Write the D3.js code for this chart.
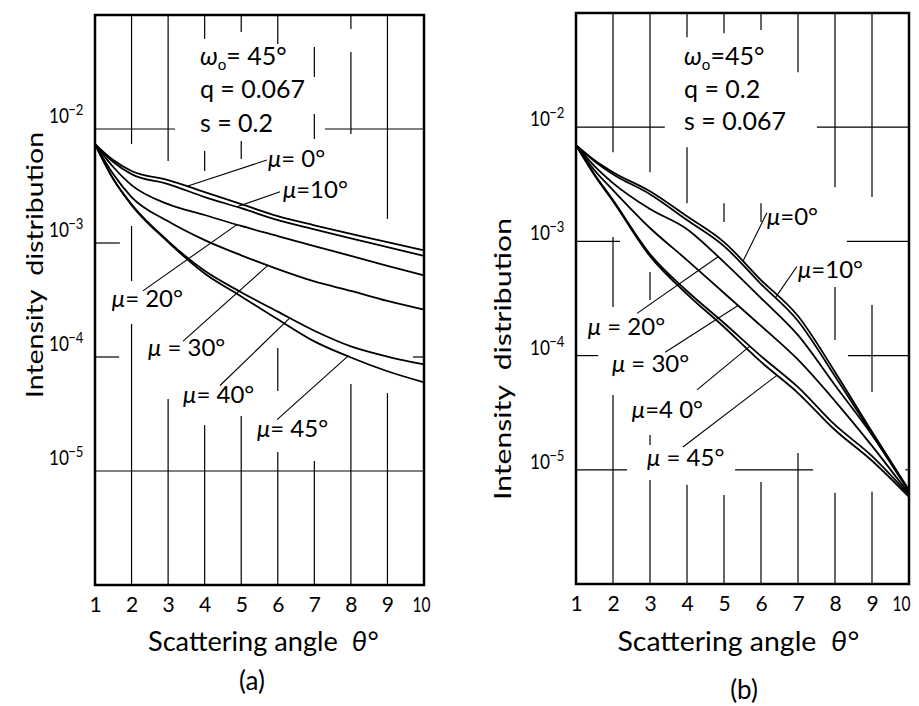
<!DOCTYPE html>
<html>
<head>
<meta charset="utf-8">
<script src="https://cdn.jsdelivr.net/npm/d3@7"></script>
<style>
  body { margin: 0; background: #fff; }
  svg { display: block; background: #fff; }
  text { font-family: Lato, "Open Sans", sans-serif; fill: #000; }
</style>
</head>
<body>
<svg id="chart" width="919" height="706"></svg>
<script>
// ---- data ----
var thetaSamples = [1, 1.5, 2, 3, 4, 5, 6, 7, 8, 9, 10];   // scattering angle, deg
var thetaTicks = [1, 2, 3, 4, 5, 6, 7, 8, 9, 10];
var decadeTicks = [1e-2, 1e-3, 1e-4, 1e-5];
var decadeExps = ['\u22122', '\u22123', '\u22124', '\u22125'];

// (a) w0 = 45deg, q = 0.067, s = 0.2
var a_mu0  = [7.38e-3, 5.34e-3, 4.28e-3, 3.56e-3, 2.80e-3, 2.19e-3, 1.72e-3, 1.43e-3, 1.20e-3, 1.02e-3, 8.6e-4];
var a_mu10 = [7.38e-3, 5.13e-3, 4.02e-3, 3.29e-3, 2.53e-3, 2.02e-3, 1.59e-3, 1.32e-3, 1.10e-3, 9.2e-4, 7.7e-4];
var a_mu20 = [7.38e-3, 4.64e-3, 3.22e-3, 2.19e-3, 1.76e-3, 1.41e-3, 1.15e-3, 9.4e-4, 7.7e-4, 6.3e-4, 5.2e-4];
var a_mu30 = [7.38e-3, 4.02e-3, 2.53e-3, 1.55e-3, 1.06e-3, 7.8e-4, 5.9e-4, 4.6e-4, 3.8e-4, 3.1e-4, 2.6e-4];
var a_mu40 = [7.38e-3, 3.64e-3, 2.19e-3, 1.04e-3, 5.7e-4, 3.7e-4, 2.5e-4, 1.7e-4, 1.24e-4, 1.01e-4, 8.6e-5];
var a_mu45 = [7.38e-3, 3.64e-3, 2.15e-3, 1.02e-3, 5.4e-4, 3.4e-4, 2.14e-4, 1.37e-4, 9.9e-5, 7.5e-5, 6.0e-5];

// (b) w0 = 45deg, q = 0.2, s = 0.067
var b_mu0  = [6.96e-3, 5.14e-3, 4.04e-3, 2.75e-3, 1.66e-3, 9.86e-4, 4.59e-4, 2.22e-4, 7.2e-5, 2.15e-5, 6.67e-6];
var b_mu10 = [6.96e-3, 5.04e-3, 3.88e-3, 2.59e-3, 1.54e-3, 9.10e-4, 4.23e-4, 2.01e-4, 6.6e-5, 2.06e-5, 6.54e-6];
var b_mu20 = [6.96e-3, 4.56e-3, 3.24e-3, 1.92e-3, 1.28e-3, 6.59e-4, 3.19e-4, 1.51e-4, 5.5e-5, 2.02e-5, 6.40e-6];
var b_mu30 = [6.96e-3, 4.20e-3, 2.81e-3, 1.31e-3, 6.86e-4, 3.53e-4, 1.82e-4, 9.2e-5, 4.0e-5, 1.62e-5, 6.15e-6];
var b_mu40 = [6.96e-3, 3.88e-3, 2.30e-3, 7.74e-4, 3.68e-4, 1.93e-4, 9.9e-5, 5.3e-5, 2.47e-5, 1.32e-5, 6.03e-6];
var b_mu45 = [6.96e-3, 3.80e-3, 2.25e-3, 7.44e-4, 3.46e-4, 1.78e-4, 8.8e-5, 4.7e-5, 2.23e-5, 1.20e-5, 5.79e-6];

var muTextA = ['= 0\u00B0', '=10\u00B0', '= 20\u00B0', ' = 30\u00B0', '= 40\u00B0', '= 45\u00B0'];
var muTextB = ['=0\u00B0', '=10\u00B0', ' = 20\u00B0', ' = 30\u00B0', '=4 0\u00B0', ' = 45\u00B0'];

var svg = d3.select('#chart');

// panel layout; grid pieces are the drafted (broken) grid lines, given in
// [theta, [[logI from, logI to], ...]] and [logI, [[theta from, theta to], ...]]
var panels = [
  {
    left: 95, right: 424, top: 15, bottom: 585,
    series: [a_mu0, a_mu10, a_mu20, a_mu30, a_mu40, a_mu45],
    muText: muTextA,
    // [series, text theta, text logI, leader start theta, leader start logI, theta on curve]
    labels: [
      [0, 5.73, -2.333, 5.70, -2.272, 3.52],
      [1, 6.14, -2.605, 6.06, -2.55, 4.88],
      [2, 1.46, -3.56, 2.31, -3.42, 4.88],
      [3, 2.45, -3.99, 3.41, -3.86, 5.73],
      [4, 3.41, -4.40, 4.42, -4.25, 6.33],
      [5, 5.43, -4.70, 5.98, -4.55, 7.92]
    ],
    notes: { theta: 3.87, omega: -1.44, q: -1.728, s: -2.026, omegaText: '= 45\u00B0', qText: 'q = 0.067', sText: 's = 0.2' },
    yLabelLeft: 49, yLabelShift: 6,
    lastTickShift: -3,
    yTitle: { x: 43, y: 265, len: 266 },
    xTitle: { x: 263, len: 230 },
    tag: { text: '(a)', x: 252, y: 690 },
    vgrid: [
      [2, [[-1, -2.132], [-2.851, -3.333], [-3.711, -6]]],
      [3, [[-1, -2.281], [-4.368, -6]]],
      [4, [[-1, -1.211], [-2.193, -2.368], [-4.596, -6]]],
      [5, [[-1, -1.149], [-2.105, -2.263], [-4.518, -6]]],
      [6, [[-1, -1.254], [-3.921, -4.298], [-4.833, -6]]],
      [7, [[-1.281, -1.544], [-1.868, -2.088], [-4.912, -6]]],
      [8, [[-1, -1.123], [-1.325, -2.044], [-4.237, -6]]],
      [9, [[-1, -2.789], [-4.316, -6]]]
    ],
    hgrid: [
      [-2, [[1, 3.19], [7.29, 10]]],
      [-3, [[1, 1.68]]],
      [-4, [[1, 1.66], [9.7, 10]]],
      [-5, [[1, 10]]]
    ]
  },
  {
    left: 576, right: 909, top: 13, bottom: 584,
    series: [b_mu0, b_mu10, b_mu20, b_mu30, b_mu40, b_mu45],
    muText: muTextB,
    labels: [
      [0, 6.16, -2.857, 6.16, -2.75, 5.51],
      [1, 7.00, -3.32, 6.97, -3.22, 6.38],
      [2, 1.32, -3.82, 2.65, -3.63, 4.84],
      [3, 1.97, -4.14, 3.41, -3.97, 5.38],
      [4, 2.51, -4.55, 4.27, -4.30, 5.70],
      [5, 2.92, -4.97, 3.89, -4.80, 6.43]
    ],
    notes: { theta: 3.92, omega: -1.458, q: -1.746, s: -2.026, omegaText: '=45\u00B0', qText: 'q = 0.2', sText: 's = 0.067' },
    yLabelLeft: 530, yLabelShift: 1,
    lastTickShift: -8,
    yTitle: { x: 511, y: 359, len: 282 },
    xTitle: { x: 738, len: 241 },
    tag: { text: '(b)', x: 744, y: 699 },
    vgrid: [
      [2, [[-1, -2.219], [-2.962, -3.575], [-4.345, -6]]],
      [3, [[-1, -2.394], [-3.269, -3.514], [-4.695, -4.782], [-5.089, -6]]],
      [4, [[-1, -1.213], [-2.175, -2.665], [-5.132, -6]]],
      [5, [[-1, -1.178], [-2.665, -2.831], [-5.220, -6]]],
      [6, [[-1, -1.149], [-2.665, -2.831], [-5.106, -6]]],
      [7, [[-1, -1.519], [-4.852, -6]]],
      [8, [[-1, -2.525], [-3.400, -3.864], [-5.202, -6]]],
      [9, [[-1, -2.612], [-3.557, -4.318], [-5.193, -6]]]
    ],
    hgrid: [
      [-2, [[1, 3.4], [7.51, 10]]],
      [-3, [[1, 2.19], [8.32, 10]]],
      [-4, [[1, 1.6], [8.35, 10]]],
      [-5, [[1, 2.38], [5.3, 7.41], [9.9, 10]]]
    ]
  }
];

function pow10(e) { return Math.pow(10, e); }

// log-linear lookup on a series, used to land the leader lines on the curves
function valueAt(thetas, vals, t) {
  var i = d3.bisectRight(thetas, t) - 1;
  i = Math.max(0, Math.min(i, thetas.length - 2));
  var f = (t - thetas[i]) / (thetas[i + 1] - thetas[i]);
  var l0 = Math.log10(vals[i]), l1 = Math.log10(vals[i + 1]);
  return pow10(l0 + f * (l1 - l0));
}

panels.forEach(function(p) {
  var x = d3.scaleLinear().domain([1, 10]).range([p.left, p.right]);
  var y = d3.scaleLog().domain([1e-6, 1e-1]).range([p.bottom, p.top]);
  var g = svg.append('g');

  // grid (drawn in pieces as in the original drafting)
  p.vgrid.forEach(function(v) {
    v[1].forEach(function(seg) {
      g.append('line')
        .attr('x1', x(v[0])).attr('x2', x(v[0]))
        .attr('y1', y(pow10(seg[0]))).attr('y2', y(pow10(seg[1])))
        .attr('stroke', '#000').attr('stroke-width', 1.2);
    });
  });
  p.hgrid.forEach(function(h) {
    h[1].forEach(function(seg) {
      g.append('line')
        .attr('x1', x(seg[0])).attr('x2', x(seg[1]))
        .attr('y1', y(pow10(h[0]))).attr('y2', y(pow10(h[0])))
        .attr('stroke', '#000').attr('stroke-width', 1.2);
    });
  });

  // curves
  var line = d3.line()
    .x(function(d) { return x(d[0]); })
    .y(function(d) { return y(d[1]); })
    .curve(d3.curveMonotoneX);

  p.series.forEach(function(s) {
    g.append('path')
      .datum(d3.zip(thetaSamples, s))
      .attr('d', line)
      .attr('fill', 'none')
      .attr('stroke', '#000')
      .attr('stroke-width', 1.8)
      .attr('stroke-linejoin', 'round');
  });

  // leaders + mu labels
  p.labels.forEach(function(l) {
    var s = p.series[l[0]];
    g.append('line')
      .attr('x1', x(l[3])).attr('y1', y(pow10(l[4])))
      .attr('x2', x(l[5])).attr('y2', y(valueAt(thetaSamples, s, l[5])))
      .attr('stroke', '#000').attr('stroke-width', 1.1);
    var t = g.append('text')
      .attr('x', x(l[1])).attr('y', y(pow10(l[2])))
      .style('font-size', '24px')
      .style('white-space', 'pre');
    t.append('tspan').style('font-style', 'italic').text('\u03BC');
    t.append('tspan').text(p.muText[l[0]]);
  });

  // parameter block
  var n = p.notes;
  var om = g.append('text').attr('x', x(n.theta)).attr('y', y(pow10(n.omega))).style('font-size', '25px');
  om.append('tspan').style('font-style', 'italic').text('\u03C9');
  om.append('tspan').attr('dy', 5).style('font-size', '15px').text('o');
  om.append('tspan').attr('dy', -5).text(n.omegaText);
  g.append('text').attr('x', x(n.theta)).attr('y', y(pow10(n.q))).style('font-size', '25px').text(n.qText);
  g.append('text').attr('x', x(n.theta)).attr('y', y(pow10(n.s))).style('font-size', '25px').text(n.sText);

  // frame
  g.append('rect')
    .attr('x', p.left).attr('y', p.top)
    .attr('width', p.right - p.left).attr('height', p.bottom - p.top)
    .attr('fill', 'none').attr('stroke', '#000').attr('stroke-width', 2.5);

  // x tick labels
  var axis = d3.axisBottom(x).tickValues(thetaTicks).tickSize(0).tickPadding(12).tickFormat(d3.format('d'));
  var axg = g.append('g').attr('transform', 'translate(0,' + p.bottom + ')').call(axis);
  axg.select('.domain').remove();
  axg.attr('font-family', null).attr('font-size', null);
  axg.selectAll('text').style('font-size', '21px')
    .filter(function(d) { return d === 10; })
    .attr('dx', p.lastTickShift)
    .attr('textLength', 18).attr('lengthAdjust', 'spacingAndGlyphs');

  // y tick labels: 10 with a raised exponent
  decadeTicks.forEach(function(d, i) {
    var t = g.append('text')
      .attr('transform', 'translate(' + p.yLabelLeft + ',' + (y(d) - p.yLabelShift) + ') scale(0.82,1)')
      .style('font-size', '21px');
    t.append('tspan').text('10');
    t.append('tspan').attr('dx', -1).attr('dy', -8).style('font-size', '16px').text(decadeExps[i]);
  });

  // axis titles
  g.append('text')
    .attr('transform', 'translate(' + p.yTitle.x + ',' + p.yTitle.y + ') rotate(-90)')
    .attr('text-anchor', 'middle')
    .attr('textLength', p.yTitle.len).attr('lengthAdjust', 'spacingAndGlyphs')
    .style('font-size', '24px')
    .style('white-space', 'pre')
    .text('Intensity  distribution');

  var xt = g.append('text')
    .attr('x', p.xTitle.x).attr('y', 651)
    .attr('text-anchor', 'middle')
    .attr('textLength', p.xTitle.len).attr('lengthAdjust', 'spacingAndGlyphs')
    .style('font-size', '27px')
    .style('white-space', 'pre');
  xt.append('tspan').text('Scattering angle  ');
  xt.append('tspan').style('font-style', 'italic').text('\u03B8\u00B0');

  g.append('text')
    .attr('x', p.tag.x).attr('y', p.tag.y)
    .attr('text-anchor', 'middle')
    .style('font-size', '26px')
    .text(p.tag.text);
});
</script>
</body>
</html>
